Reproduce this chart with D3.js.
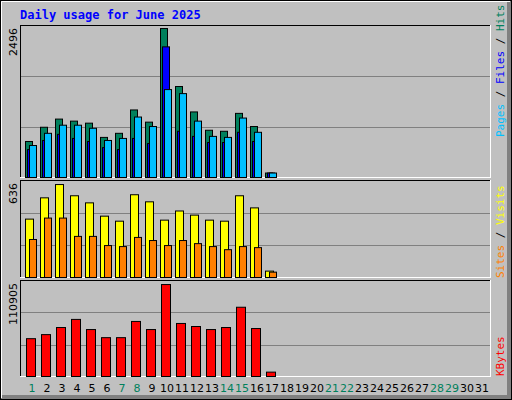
<!DOCTYPE html>
<html><head><meta charset="utf-8">
<script src="https://cdn.jsdelivr.net/npm/d3@7"></script>
<style>body{margin:0;background:#fff}svg{display:block}</style>
</head><body>
<script>
const days = d3.range(1, 32);
const weekendDays = [1,7,8,14,15,21,22,28,29];
const hits   = [616,853,989,955,921,684,752,1141,938,2496,1531,1108,803,786,1084,865,91];
const files  = [481,633,735,667,616,514,481,667,582,2191,786,701,599,599,769,616,91];
const pages  = [549,752,887,887,836,633,667,1023,865,1480,1413,955,701,684,1006,769,91];
const visits = [402,546,636,560,512,422,388,567,519,395,457,429,395,388,560,478,50];
const sites  = [264,409,409,285,285,223,216,278,257,223,257,236,216,195,216,209,43];
const kbytes = [46324,51162,59628,69304,57209,47533,47533,66885,57209,110905,64466,60838,57209,59628,83818,58419,6410];
const title = "Daily usage for June 2025";

const W=512,H=400;
const svg=d3.select("body").append("svg").attr("width",W).attr("height",H);
svg.append("rect").attr("width",W).attr("height",H).attr("fill","#C0C0C0");
// outer bevel
svg.append("rect").attr("x",507).attr("y",0).attr("width",5).attr("height",H).attr("fill","#808080");
svg.append("rect").attr("x",0).attr("y",395).attr("width",W).attr("height",5).attr("fill","#808080");
svg.append("line").attr("x1",1.5).attr("y1",1.5).attr("x2",1.5).attr("y2",398).attr("stroke","#fff");
svg.append("line").attr("x1",1.5).attr("y1",1.5).attr("x2",510).attr("y2",1.5).attr("stroke","#fff");
svg.append("rect").attr("x",0.5).attr("y",0.5).attr("width",W-1).attr("height",H-1).attr("fill","none").attr("stroke","#000");

const mono="'DejaVu Sans Mono', monospace";
svg.append("text").attr("x",20).attr("y",19).text(title).attr("font-family",mono)
  .attr("font-weight","bold").attr("font-size",12).attr("fill","#0000FF");

const x=d3.scaleLinear().domain([1,32]).range([25,490]);
const L=20,R=491;

function panel(top,bottom,max,label){
  svg.append("rect").attr("x",L).attr("y",top).attr("width",R-L).attr("height",bottom-top).attr("fill","#C0C0C0");
  const h=bottom-top;
  const y=d3.scaleLinear().domain([0,max]).range([bottom,top]);
  [1,2].forEach(i=>svg.append("line").attr("x1",L+1).attr("x2",R-1)
    .attr("y1",bottom-Math.round(h*i/3)+0.5).attr("y2",bottom-Math.round(h*i/3)+0.5).attr("stroke","#808080"));
  svg.append("line").attr("x1",L+0.5).attr("x2",L+0.5).attr("y1",top).attr("y2",bottom).attr("stroke","#000").attr("stroke-width",1);
  svg.append("line").attr("x1",L).attr("x2",R).attr("y1",top+0.5).attr("y2",top+0.5).attr("stroke","#000");
  svg.append("line").attr("x1",L).attr("x2",R).attr("y1",bottom-0.5).attr("y2",bottom-0.5).attr("stroke","#fff");
  svg.append("line").attr("x1",R-0.5).attr("x2",R-0.5).attr("y1",top).attr("y2",bottom).attr("stroke","#fff");
  const lx=17, ly=top+3;
  svg.append("text").attr("transform",`translate(${lx},${ly}) rotate(-90)`).attr("text-anchor","end")
    .attr("font-family","'DejaVu Sans', sans-serif").attr("font-size",11).attr("fill","#000").text(label);
  return y;
}
function bars(y,data,off,w,color,bottom){
  svg.append("g").selectAll("rect").data(data).join("rect")
    .attr("x",(d,i)=>x(i+1)+off+0.5).attr("width",w)
    .attr("y",d=>y(d)+0.5).attr("height",d=>Math.max(0,bottom-1-y(d)))
    .attr("fill",color).attr("stroke","#000").attr("stroke-width",1);
}
function rightLabel(parts,yBottom){
  const t=svg.append("text").attr("transform",`translate(504,${yBottom}) rotate(-90)`)
    .attr("font-family",mono).attr("font-size",11);
  parts.forEach(p=>t.append("tspan").attr("fill",p[1]).text(p[0]));
}

// top panel
let b1=178;
let y1=panel(25,b1,2496*151/148,"2496");
bars(y1,hits,0,7,"#00805C",b1);
bars(y1,files,2,7,"#0000FF",b1);
bars(y1,pages,4,7,"#00C0FF",b1);
rightLabel([["Pages","#00C0FF"],[" / ","#000"],["Files","#0000FF"],[" / ","#000"],["Hits","#00805C"]],137);

let b2=278;
let y2=panel(180,b2,636*97/93,"636");
bars(y2,visits,0,8,"#FFFF00",b2);
bars(y2,sites,4,7,"#FF8000",b2);
rightLabel([["Sites","#FF8000"],[" / ","#000"],["Visits","#FFFF00"]],278);

let b3=377;
let y3=panel(280,b3,110905*96/92,"110905");
bars(y3,kbytes,1,9,"#FF0000",b3);
rightLabel([["KBytes","#FF0000"]],376);

svg.append("g").selectAll("text").data(days).join("text")
  .attr("x",d=>x(d)+7).attr("y",392).attr("text-anchor","middle")
  .attr("font-family","'DejaVu Sans', sans-serif").attr("font-size",11)
  .attr("fill",d=>weekendDays.includes(d)?"#00805C":"#000").text(d=>d);
</script>
</body></html>
